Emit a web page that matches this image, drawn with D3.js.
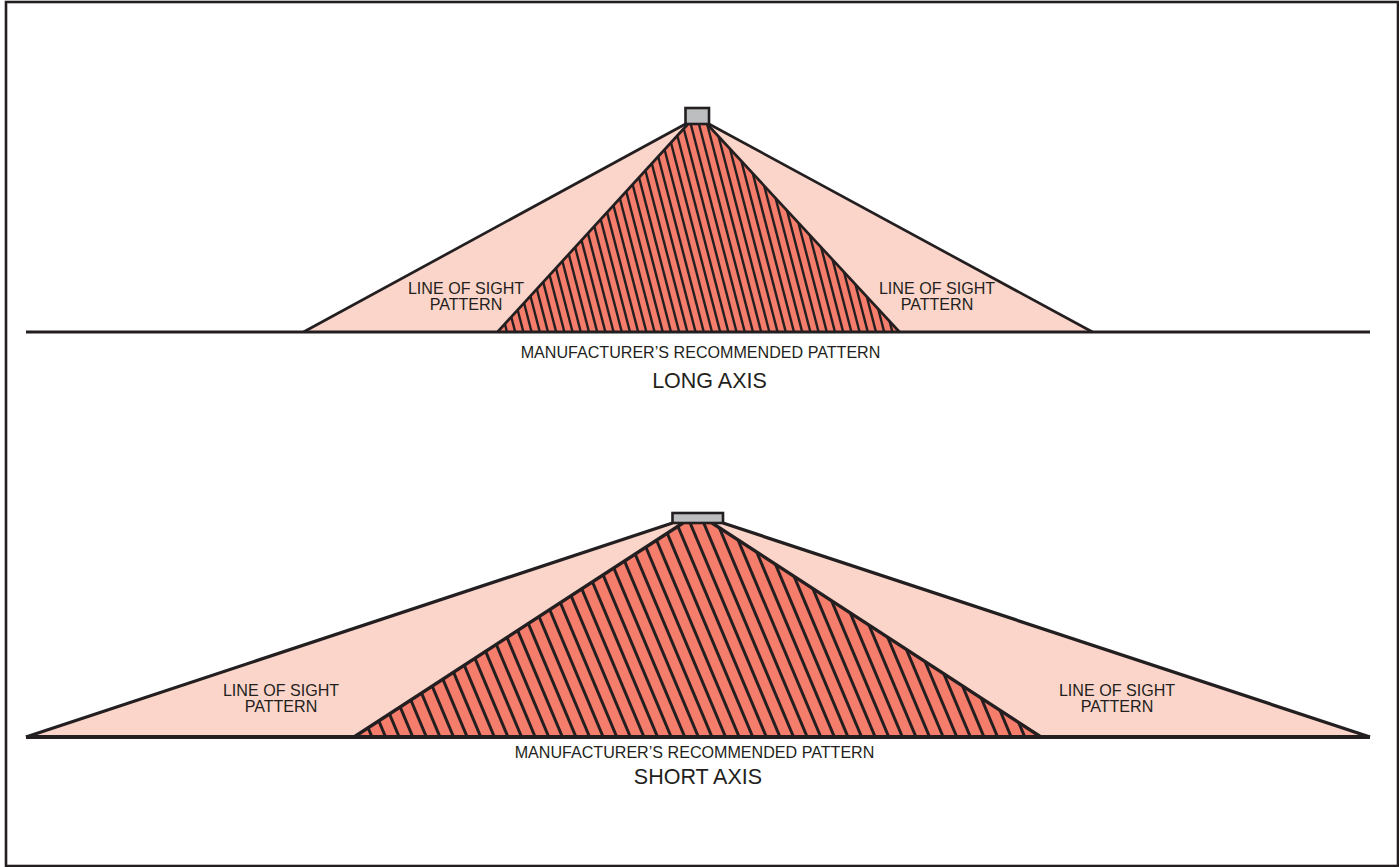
<!DOCTYPE html>
<html lang="en">
<head>
    <meta charset="UTF-8">
    <title>Line of sight pattern</title>
    <script src="https://d3js.org/d3.v7.min.js"></script>
    <style>
        html, body { margin: 0; padding: 0; background: #fff; }
        svg { display: block; }
        text { font-family: "Liberation Sans", Arial, sans-serif; fill: #231f20; text-anchor: middle; }
    </style>
</head>
<body>
<script>
    const width = 1399
    const height = 867

    // ground distance from the fixture centre, and height above the floor
    const groundExtent = [-672, 672]
    const longOuter = [-394.5, 394.5]
    const longInner = [-200.5, 201.5]
    const longFixture = [-12.5, 11]
    const longFixtureTop = [208, 224]
    const shortOuter = [-672, 672]
    const shortInner = [-344, 343]
    const shortFixture = [-25.5, 25]
    const shortFixtureTop = [214, 224]

    // where each hatch line lands on the floor, relative to the centre
    const longHatch = [-191, -182.8, -174.6, -166.4, -158.2, -150, -141.8, -133.6, -125.4, -117.2, -109, -100.8,
        -92.6, -84.4, -76.2, -68, -59.8, -51.6, -43.4, -35.2, -27, -18.8, -10.6, -2.4, 5.8, 14, 22.2, 30.4, 38.6,
        46.8, 55, 63.2, 71.4, 79.6, 87.8, 96, 104.2, 112.4, 120.6, 128.8, 137, 145.2, 153.4, 161.6, 169.8, 178, 186.2, 194.4]
    const shortHatch = [-326, -312.4, -298.8, -285.2, -271.6, -258, -244.4, -230.8, -217.2, -203.6, -190, -176.4,
        -162.8, -149.2, -135.6, -122, -108.4, -94.8, -81.2, -67.6, -54, -40.4, -26.8, -13.2, 0.4, 14, 27.6, 41.2,
        54.8, 68.4, 82, 95.6, 109.2, 122.8, 136.4, 150, 163.6, 177.2, 190.8, 204.4, 218, 231.6, 245.2, 258.8, 272.4,
        286, 299.6, 313.2, 326.8]
    const longSlant = 0.26
    const shortSlant = 0.42

    const sightLabel = ["LINE OF SIGHT", "PATTERN"]
    const recommendedLabel = "MANUFACTURER\u2019S RECOMMENDED PATTERN"

    const svg = d3.select("body").append("svg")
        .attr("width", width)
        .attr("height", height)
        .attr("viewBox", `0 0 ${width} ${height}`)

    svg.append("rect")
        .attr("x", 6).attr("y", 2)
        .attr("width", 1392).attr("height", 864)
        .attr("fill", "#fff")
        .attr("stroke", "#231f20")
        .attr("stroke-width", 2.6)

    const x = d3.scaleLinear().domain(groundExtent).range([26, 1370])

    function drawPanel(p) {
        const y = d3.scaleLinear().domain([0, 224]).range([p.floorY, p.floorY - 224])
        const g = svg.append("g")
        const inner = [[p.inner[0], 0], [p.edgeTop[0], p.fixtureTop[0]], [p.edgeTop[1], p.fixtureTop[0]], [p.inner[1], 0]]
        const outer = [[p.outer[0], 0], [p.fixture[0], p.fixtureTop[0]], [p.fixture[1], p.fixtureTop[0]], [p.outer[1], 0]]
        const path = d3.line().x(d => x(d[0])).y(d => y(d[1]))

        g.append("path").attr("d", path(outer) + "Z").attr("fill", "#fcd5ca")
        g.append("path").attr("d", path(inner) + "Z").attr("fill", "#f57d6b")

        g.append("clipPath").attr("id", p.id)
            .append("path").attr("d", path(inner) + "Z")
        g.append("g").attr("clip-path", `url(#${p.id})`)
            .selectAll("line")
            .data(p.hatch)
            .join("line")
            .attr("x1", d => x(d))
            .attr("y1", y(0))
            .attr("x2", d => x(d - p.slant * p.fixtureTop[0]))
            .attr("y2", y(p.fixtureTop[0]))
            .attr("stroke", "#231f20")
            .attr("stroke-width", p.hatchWidth)

        g.selectAll(".edge")
            .data([[outer[0], outer[1]], [outer[2], outer[3]], [inner[0], inner[1]], [inner[2], inner[3]]])
            .join("path")
            .attr("class", "edge")
            .attr("d", path)
            .attr("fill", "none")
            .attr("stroke", "#231f20")
            .attr("stroke-width", p.edgeWidth)

        g.append("line")
            .attr("x1", x(groundExtent[0])).attr("x2", x(groundExtent[1]))
            .attr("y1", y(0)).attr("y2", y(0))
            .attr("stroke", "#231f20")
            .attr("stroke-width", p.floorWidth)

        g.append("rect")
            .attr("x", x(p.fixture[0]))
            .attr("y", y(p.fixtureTop[1]))
            .attr("width", x(p.fixture[1]) - x(p.fixture[0]))
            .attr("height", y(p.fixtureTop[0]) - y(p.fixtureTop[1]))
            .attr("fill", "#bcbec0")
            .attr("stroke", "#231f20")
            .attr("stroke-width", 2.6)

        p.sightX.forEach(cx => {
            sightLabel.forEach((t, i) => {
                g.append("text").attr("x", cx).attr("y", p.sightY[i])
                    .attr("font-size", 16.1).text(t)
            })
        })
        g.append("text").attr("x", p.recX).attr("y", p.recY)
            .attr("font-size", 16.1).text(recommendedLabel)
        g.append("text").attr("x", p.titleX).attr("y", p.titleY)
            .attr("font-size", 21.5).text(p.title)
    }

    drawPanel({
        id: "clipLong", title: "LONG AXIS", floorY: 332,
        outer: longOuter, inner: longInner, fixture: longFixture, fixtureTop: longFixtureTop,
        edgeTop: [-10, 9], hatch: longHatch, slant: longSlant,
        hatchWidth: 2.4, edgeWidth: 2.7, floorWidth: 2.8,
        sightX: [466, 937], sightY: [294, 310], recX: 700.5, recY: 358, titleX: 709.5, titleY: 388
    })
    drawPanel({
        id: "clipShort", title: "SHORT AXIS", floorY: 737,
        outer: shortOuter, inner: shortInner, fixture: shortFixture, fixtureTop: shortFixtureTop,
        edgeTop: [-15, 14], hatch: shortHatch, slant: shortSlant,
        hatchWidth: 3, edgeWidth: 3.3, floorWidth: 3.8,
        sightX: [281, 1117], sightY: [696, 712], recX: 694.5, recY: 758, titleX: 698, titleY: 784
    })
</script>
</body>
</html>
